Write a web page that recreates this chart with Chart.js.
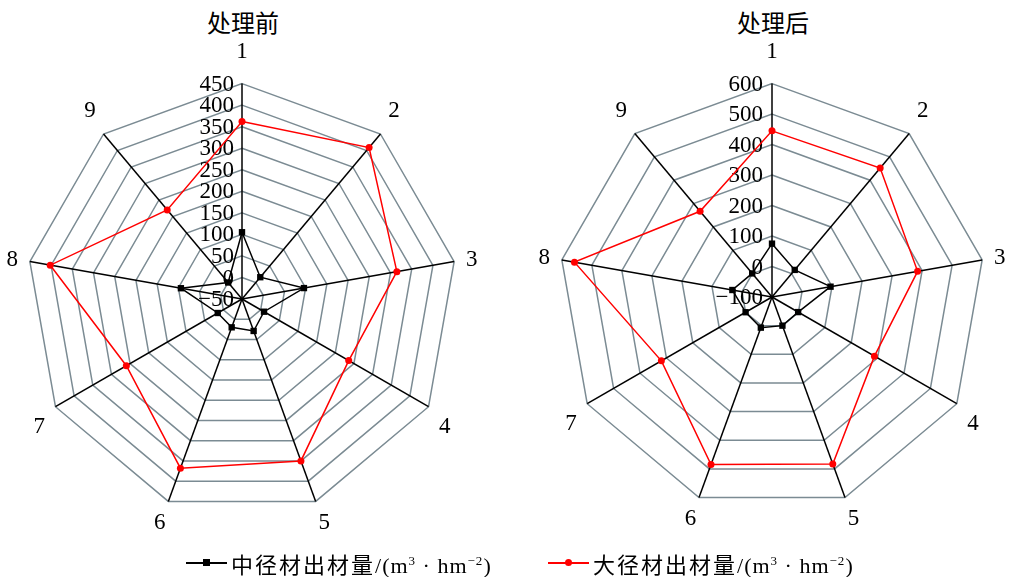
<!DOCTYPE html>
<html>
<head>
<meta charset="utf-8">
<script src="https://cdn.jsdelivr.net/npm/chart.js@4/dist/chart.umd.min.js"></script>
<style>
  html, body { margin: 0; padding: 0; background: #fff; }
  body { width: 1009px; height: 577px; position: relative; overflow: hidden; }
  canvas { position: absolute; }
  .title { position: absolute; top: 8px; width: 200px; text-align: center;
           font: 24px "Noto Sans CJK SC", sans-serif; color: #000; line-height: 28px; }
  .legend-item { position: absolute; top: 549px; height: 28px; display: flex; align-items: center;
                 font: 22px "Liberation Serif", "Noto Sans CJK SC", serif; color: #000; white-space: nowrap; }
  .legend-item .sym { position: relative; width: 41px; height: 14px; margin-right: 4px; }
  .legend-item .sym .ln { position: absolute; left: 0; right: 0; top: 6px; height: 1.5px; }
  .legend-item .sym .mk { position: absolute; left: 17px; top: 3px; width: 7px; height: 7px; }
  .legend-item sup { font-size: 13px; vertical-align: 8px; line-height: 0; }
  .legend-item .unit { letter-spacing: 1px; }
  .cjk { font-family: "Noto Sans CJK SC", sans-serif; letter-spacing: 2px; }
</style>
</head>
<body>
<div class="title" style="left:143px">处理前</div>
<div class="title" style="left:673px">处理后</div>
<canvas id="before" width="522" height="522" style="left:-18px; top:26px"></canvas>
<canvas id="after" width="518" height="518" style="left:514px; top:26px"></canvas>

<div class="legend-item" style="left:186px">
  <div class="sym"><div class="ln" style="background:#000"></div><div class="mk" style="background:#000"></div></div>
  <span><span class="cjk">中径材出材量</span><span class="unit">/(m<sup>3</sup> · hm<sup>−2</sup>)</span></span>
</div>
<div class="legend-item" style="left:548px">
  <div class="sym"><div class="ln" style="background:#ff0000"></div><div class="mk" style="background:#ff0000;border-radius:50%"></div></div>
  <span><span class="cjk">大径材出材量</span><span class="unit">/(m<sup>3</sup> · hm<sup>−2</sup>)</span></span>
</div>

<script>
// Sample plots 1–9
const plots = ['1', '2', '3', '4', '5', '6', '7', '8', '9'];

// Output volume before treatment (m³·hm⁻²)
const beforeMedium = [105, 16, 96, 9, 29, 20, 15, 94, 0];
const beforeLarge  = [362, 409, 315, 236, 350, 368, 260, 402, 220];

// Output volume after treatment (m³·hm⁻²)
const afterMedium = [75, 16, 95, -1, 0, 7, 0, 32, 1];
const afterLarge  = [445, 452, 385, 288, 483, 485, 319, 558, 267];

// Radial axis ranges
const beforeAxis = { min: -50, max: 450, step: 50 };
const afterAxis  = { min: -100, max: 600, step: 100 };

const mediumLabel = '中径材出材量/(m³·hm⁻²)';
const largeLabel  = '大径材出材量/(m³·hm⁻²)';

const gridColor = '#7b8b93';
const serif = '"Liberation Serif", "Times New Roman", serif';

function fmt(v) {
  return v < 0 ? '\u2212' + Math.abs(v) : String(v);
}

// Value labels stacked along the first spoke, right-aligned next to it
const tickLabelPlugin = {
  id: 'tickLabels',
  beforeDatasetsDraw(chart, args, opts) {
    const s = chart.scales.r;
    const ctx = chart.ctx;
    ctx.save();
    ctx.font = '23px ' + serif;
    ctx.fillStyle = '#000';
    ctx.textAlign = 'right';
    ctx.textBaseline = 'middle';
    s.ticks.forEach(t => {
      const d = s.getDistanceFromCenterForValue(t.value);
      ctx.fillText(fmt(t.value), s.xCenter - opts.gap, s.yCenter - d + 1);
    });
    ctx.restore();
  }
};

// Keep near-horizontal spoke labels vertically centred on their spoke
const pointLabelCentering = {
  id: 'pointLabelCentering',
  afterLayout(chart) {
    const s = chart.scales.r;
    const items = s._pointLabelItems || [];
    const n = items.length;
    items.forEach((it, i) => {
      const a = i * 360 / n;
      if ((a > 60 && a < 90) || (a > 270 && a < 300)) {
        const h = it.bottom - it.top;
        it.y += h / 2; it.top += h / 2; it.bottom += h / 2;
      }
    });
  }
};

function makeRadar(id, medium, large, axis, gap) {
  return new Chart(document.getElementById(id), {
    type: 'radar',
    data: {
      labels: plots,
      datasets: [
        {
          label: mediumLabel,
          data: medium,
          borderColor: '#000',
          backgroundColor: '#000',
          borderWidth: 1.5,
          pointStyle: 'rect',
          pointRadius: 4.5,
          pointBorderWidth: 0,
          pointBackgroundColor: '#000',
          fill: false,
          tension: 0
        },
        {
          label: largeLabel,
          data: large,
          borderColor: '#ff0000',
          backgroundColor: '#ff0000',
          borderWidth: 1.5,
          pointStyle: 'circle',
          pointRadius: 3.5,
          pointBorderWidth: 0,
          pointBackgroundColor: '#ff0000',
          fill: false,
          tension: 0
        }
      ]
    },
    options: {
      responsive: false,
      animation: false,
      devicePixelRatio: 1,
      layout: { padding: 0 },
      plugins: {
        legend: { display: false },
        tooltip: { enabled: false },
        title: { display: false },
        tickLabels: { gap: gap }
      },
      scales: {
        r: {
          min: axis.min,
          max: axis.max,
          beginAtZero: false,
          ticks: { display: false, stepSize: axis.step },
          grid: { color: gridColor, lineWidth: 1.5 },
          angleLines: { color: '#000', lineWidth: 1.5 },
          pointLabels: {
            color: '#000',
            font: { family: serif, size: 23 },
            padding: ctx => (ctx.index === 0 ? 18 : (ctx.index === 4 || ctx.index === 5 ? 8 : 12))
          }
        }
      }
    },
    plugins: [tickLabelPlugin, pointLabelCentering]
  });
}

makeRadar('before', beforeMedium, beforeLarge, beforeAxis, 8);
makeRadar('after', afterMedium, afterLarge, afterAxis, 9);
</script>
</body>
</html>
